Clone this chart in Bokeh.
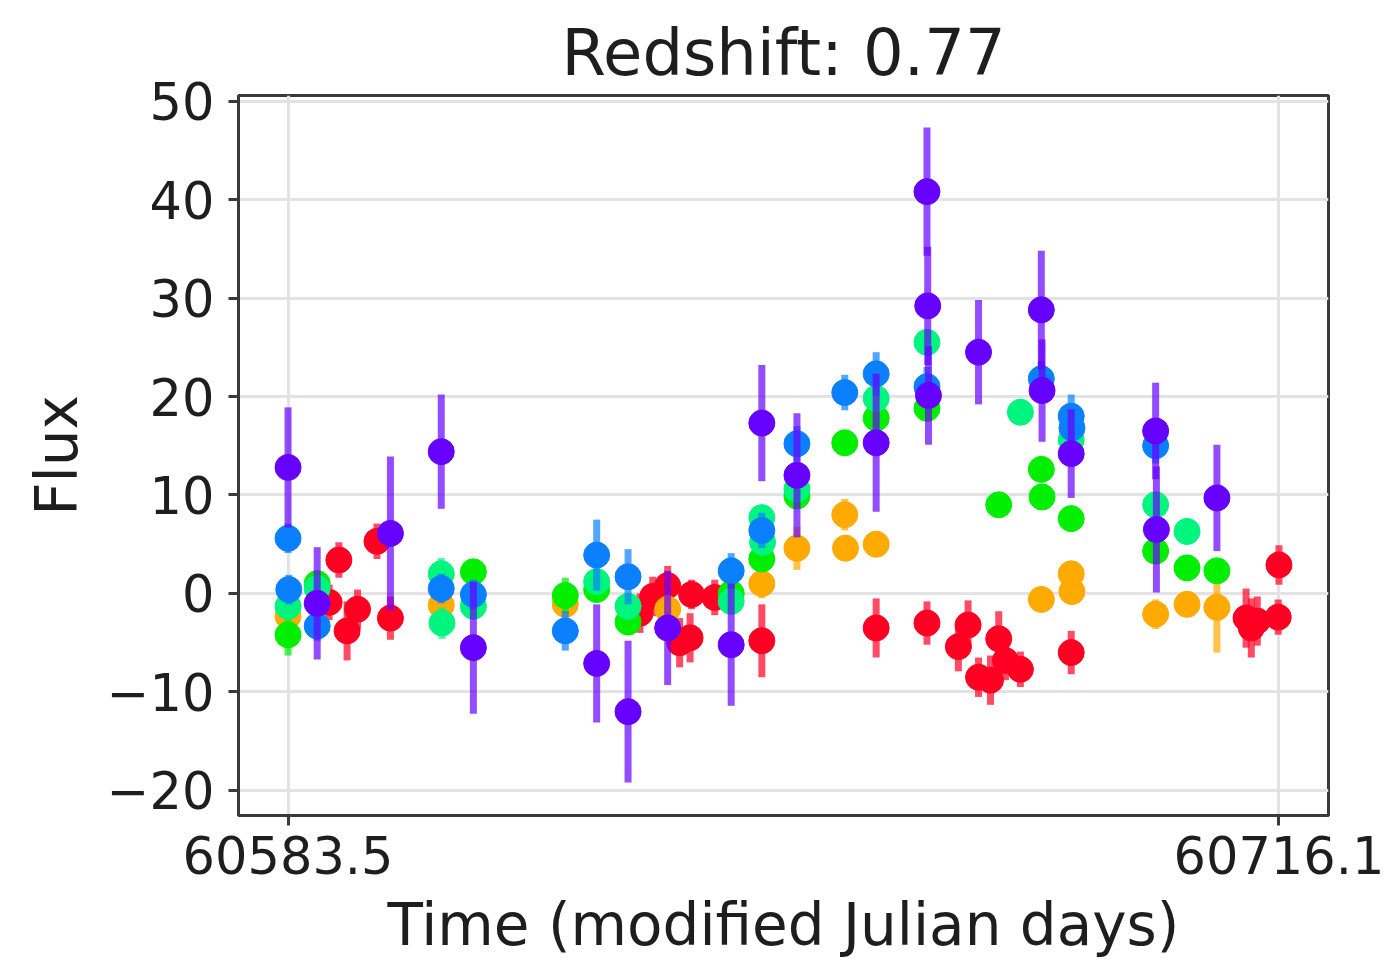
from bokeh.plotting import figure
from bokeh.models import ColumnDataSource, Range1d, FixedTicker
from bokeh.embed import file_html
from bokeh.resources import INLINE

# ---- data ----
title_text = "Redshift: 0.77"
x_tick_values = [60583.5, 60716.1]
x_tick_labels = ["60583.5", "60716.1"]
y_tick_values = [-20, -10, 0, 10, 20, 30, 40, 50]
y_tick_labels = ["\u221220", "\u221210", "0", "10", "20", "30", "40", "50"]

# red band
red_t = [60589.0, 60590.3, 60591.4, 60592.8, 60595.4, 60597.2, 60630.6, 60632.3, 60634.3,
         60635.9, 60637.3, 60637.5, 60640.6, 60646.9, 60662.2, 60669.0, 60673.2, 60674.5,
         60675.9, 60677.5, 60678.6, 60679.5, 60681.5, 60688.3, 60711.7, 60712.4, 60713.2,
         60716.1, 60716.0]
red_f = [-0.9, 3.4, -3.8, -1.6, 5.3, -2.5, -2.0, -0.3, 0.8,
         -5.0, -4.5, -0.1, -0.4, -4.8, -3.5, -3.0, -5.4, -3.2,
         -8.5, -8.8, -4.6, -6.8, -7.7, -6.0, -2.5, -3.5, -2.8,
         2.9, -2.4]
red_e = [1.8, 1.8, 3.0, 2.0, 1.8, 2.2, 2.0, 2.0, 2.0,
         2.5, 2.5, 1.5, 1.8, 3.7, 3.0, 2.2, 2.5, 2.5,
         2.0, 2.5, 2.8, 2.0, 1.8, 2.2, 3.0, 3.0, 2.5,
         2.0, 1.8]

# orange band
orange_t = [60583.5, 60604.0, 60620.6, 60634.3, 60646.9, 60651.6, 60658.0, 60658.1,
            60662.2, 60684.3, 60688.3, 60688.4, 60699.6, 60703.8, 60707.8]
orange_f = [-2.3, -1.2, -1.1, -1.6, 1.0, 4.6, 8.0, 4.6,
            5.0, -0.6, 2.0, 0.2, -2.1, -1.1, -1.4]
orange_e = [1.3, 1.3, 1.3, 1.5, 1.5, 2.2, 1.6, 1.3,
            1.3, 1.3, 1.3, 1.3, 1.5, 1.3, 4.6]

# green band
green_t = [60583.5, 60587.4, 60608.3, 60620.6, 60624.8, 60629.0, 60642.8, 60646.9,
           60651.6, 60658.0, 60662.2, 60669.0, 60678.6, 60684.3, 60684.4, 60688.3,
           60699.6, 60703.8, 60707.8]
green_f = [-4.2, 1.0, 2.2, -0.2, 0.4, -2.9, 0.0, 3.5,
           9.9, 15.3, 17.8, 18.8, 9.0, 12.6, 9.8, 7.6,
           4.3, 2.6, 2.3]
green_e = [2.1, 1.3, 1.3, 1.8, 1.3, 1.3, 1.3, 1.3,
           1.3, 1.3, 1.3, 1.3, 1.3, 1.3, 1.3, 1.3,
           1.3, 1.3, 1.3]

# teal band
teal_t = [60583.5, 60587.4, 60604.0, 60604.1, 60608.3, 60624.8, 60629.0, 60642.8,
          60646.9, 60647.0, 60651.6, 60662.2, 60669.0, 60681.5, 60688.3, 60699.6, 60703.8]
teal_f = [-1.3, 0.5, 2.0, -3.0, -1.3, 1.2, -1.3, -0.8,
          7.7, 5.2, 10.6, 19.8, 25.5, 18.4, 15.6, 9.0, 6.3]
teal_e = [1.3, 1.3, 1.6, 1.6, 1.3, 1.3, 1.3, 1.3,
          1.3, 1.3, 1.3, 1.3, 1.3, 1.3, 1.3, 1.3, 1.3]

# blue band
blue_t = [60583.5, 60583.6, 60587.4, 60604.0, 60608.3, 60620.6, 60624.8, 60629.0,
          60642.8, 60646.9, 60651.6, 60658.0, 60662.2, 60669.0, 60684.3, 60688.3,
          60688.4, 60699.6]
blue_f = [5.6, 0.4, -3.3, 0.5, -0.1, -3.8, 3.9, 1.7,
          2.3, 6.4, 15.2, 20.4, 22.3, 21.0, 21.8, 18.0,
          16.8, 15.0]
blue_e = [1.5, 1.5, 1.5, 1.5, 1.5, 2.0, 3.6, 2.8,
          1.8, 1.8, 1.8, 1.8, 2.2, 2.0, 1.8, 2.2,
          1.8, 1.8]

# purple band
purple_t = [60583.5, 60587.4, 60597.2, 60604.0, 60608.3, 60624.8, 60629.0, 60634.3,
            60642.8, 60646.9, 60651.6, 60662.2, 60669.0, 60669.1, 60669.2, 60675.9,
            60684.3, 60684.4, 60688.3, 60699.6, 60699.7, 60707.8]
purple_f = [12.8, -1.0, 6.1, 14.4, -5.5, -7.1, -12.0, -3.5,
            -5.2, 17.3, 12.0, 15.3, 40.8, 29.2, 20.1, 24.5,
            28.8, 20.6, 14.2, 16.5, 6.5, 9.7]
purple_e = [6.1, 5.7, 7.8, 5.8, 6.7, 6.0, 7.2, 5.8,
            6.2, 5.9, 6.3, 7.0, 6.5, 6.0, 5.0, 5.3,
            6.0, 5.2, 4.5, 4.9, 6.4, 5.4]

series = [
    (red_t, red_f, red_e, "#ff0022"),
    (orange_t, orange_f, orange_e, "#ffaa00"),
    (green_t, green_f, green_e, "#00ee00"),
    (teal_t, teal_f, teal_e, "#00f57f"),
    (blue_t, blue_f, blue_e, "#0a80ff"),
    (purple_t, purple_f, purple_e, "#6600ff"),
]

FONT = "DejaVu Sans"
TXT = "#1e1e1e"

p = figure(width=1393, height=967, output_backend="svg", toolbar_location=None,
           x_range=Range1d(60576.87, 60722.73), y_range=Range1d(-22.54, 50.56),
           min_border_left=238, min_border_right=65, min_border_top=95, min_border_bottom=152,
           background_fill_color="white", border_fill_color="white")

p.title.text = title_text
p.title.align = "center"
p.title.text_font = FONT
p.title.text_font_size = "64px"
p.title.text_font_style = "normal"
p.title.text_color = TXT
p.title.standoff = 12

p.outline_line_color = "#3a3a3a"
p.outline_line_width = 3
p.outline_line_alpha = 1.0

for ax in (p.xaxis[0], p.yaxis[0]):
    ax.axis_line_color = "#3a3a3a"
    ax.axis_line_width = 3
    ax.major_tick_line_color = "#3a3a3a"
    ax.major_tick_line_width = 3
    ax.major_tick_out = 10
    ax.major_tick_in = 0
    ax.minor_tick_line_color = None
    ax.major_label_text_font = FONT
    ax.major_label_text_font_size = "51px"
    ax.major_label_text_color = TXT
    ax.axis_label_text_font = FONT
    ax.axis_label_text_font_size = "58px"
    ax.axis_label_text_font_style = "normal"
    ax.axis_label_text_color = TXT

p.xaxis.ticker = FixedTicker(ticks=x_tick_values)
p.xaxis.major_label_overrides = dict(zip(x_tick_values, x_tick_labels))
p.yaxis.ticker = FixedTicker(ticks=y_tick_values)
p.yaxis.major_label_overrides = dict(zip(y_tick_values, y_tick_labels))
p.xaxis.axis_label = "Time (modified Julian days)"
p.yaxis.axis_label = "Flux"
p.xaxis.major_label_standoff = 10
p.yaxis.major_label_standoff = 14
p.xaxis.axis_label_standoff = 14
p.yaxis.axis_label_standoff = 13

p.xgrid.ticker = FixedTicker(ticks=x_tick_values)
p.ygrid.ticker = FixedTicker(ticks=y_tick_values)
for g in (p.xgrid[0], p.ygrid[0]):
    g.grid_line_color = "#e3e3e3"
    g.grid_line_width = 3

for t, f, e, c in series:
    lo = [fi - ei for fi, ei in zip(f, e)]
    hi = [fi + ei for fi, ei in zip(f, e)]
    src = ColumnDataSource(dict(t=t, f=f, lo=lo, hi=hi))
    p.segment(x0="t", y0="lo", x1="t", y1="hi", source=src,
              line_color=c, line_width=7, line_alpha=0.7)
    p.scatter(x="t", y="f", source=src, size=26, fill_color=c, line_color=c,
              line_width=1, marker="circle")

open("out.html", "w").write(file_html(p, INLINE))
